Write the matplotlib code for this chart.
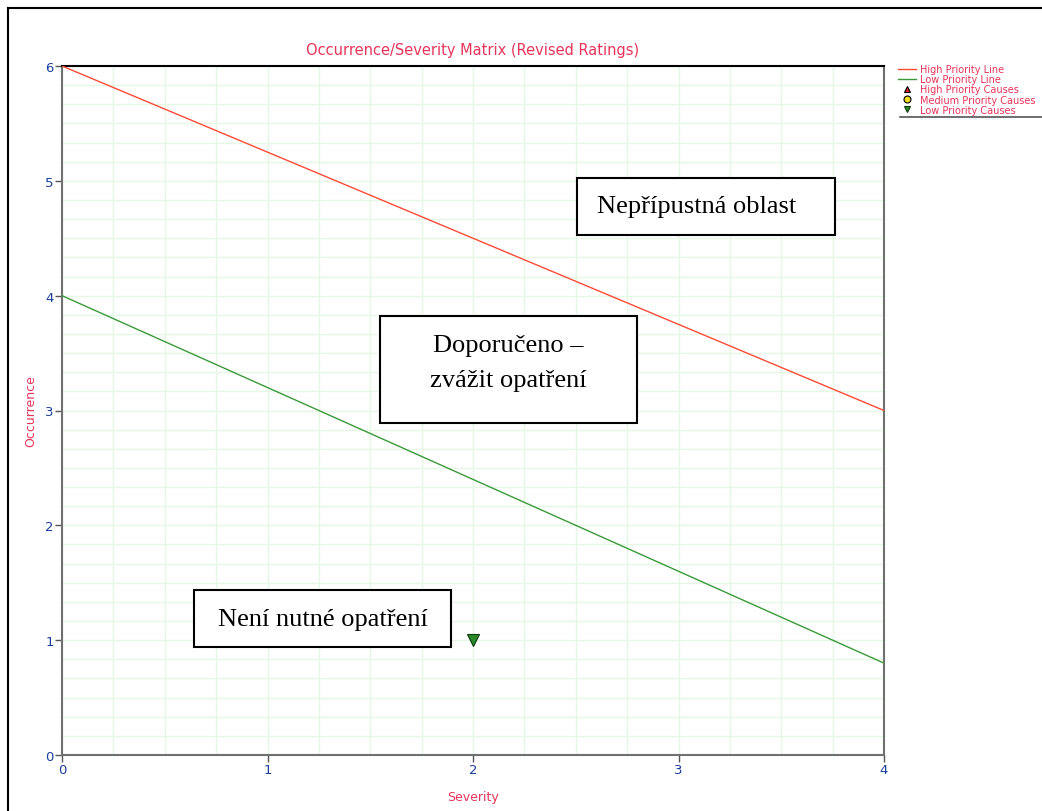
import matplotlib.pyplot as plt
from matplotlib.patches import Rectangle
from matplotlib.lines import Line2D
from matplotlib.ticker import MultipleLocator

# Priority lines (Severity -> Occurrence)
high_x = [0, 4]
high_y = [6, 3]
low_x = [0, 4]
low_y = [4, 0.8]

# Causes
high_causes_x, high_causes_y = [], []
medium_causes_x, medium_causes_y = [], []
low_causes_x = [2]
low_causes_y = [1]

region_labels = ['Nepřípustná oblast', 'Doporučeno –\nzvážit opatření', 'Není nutné opatření']

pink = '#e8345a'
blue = '#1a3d9c'
grid_green = '#e4f8e4'

fig = plt.figure(figsize=(10.42, 8.12), dpi=100)
ax = fig.add_axes([62 / 1042, 56 / 812, 822 / 1042, 689 / 812])

ax.plot(high_x, high_y, color='#ff4a35', lw=1, label='High Priority Line', zorder=3)
ax.plot(low_x, low_y, color='#3a9a3a', lw=1, label='Low Priority Line', zorder=3)
ax.plot(high_causes_x, high_causes_y, ls='none', marker='^', ms=5, mfc='#e02020',
        mec='black', mew=0.8, label='High Priority Causes')
ax.plot(medium_causes_x, medium_causes_y, ls='none', marker='o', ms=5, mfc='#f0e020',
        mec='black', mew=0.8, label='Medium Priority Causes')
ax.plot(low_causes_x, low_causes_y, ls='none', marker='v', ms=8, mfc='#2a8a2a',
        mec='#0a3a0a', mew=0.8, label='Low Priority Causes', zorder=4)

ax.set_xlim(0, 4)
ax.set_ylim(0, 6)
ax.xaxis.set_major_locator(MultipleLocator(1))
ax.yaxis.set_major_locator(MultipleLocator(1))
ax.xaxis.set_minor_locator(MultipleLocator(0.25))
ax.yaxis.set_minor_locator(MultipleLocator(1 / 6))
ax.grid(True, which='both', color=grid_green, lw=1)
ax.set_axisbelow(True)
ax.tick_params(which='minor', length=0)
ax.tick_params(which='major', length=5, width=1, color='#555555', labelcolor=blue,
               labelsize=9.5, pad=1)

for side in ['left', 'bottom', 'right']:
    ax.spines[side].set_color('#707070')
    ax.spines[side].set_linewidth(1.5)
ax.spines['top'].set_color('black')
ax.spines['top'].set_linewidth(1.5)

ax.set_title('Occurrence/Severity Matrix (Revised Ratings)', color=pink, fontsize=10.5, pad=9)
ax.set_xlabel('Severity', color=pink, fontsize=9, labelpad=10)
ax.set_ylabel('Occurrence', color=pink, fontsize=9, labelpad=6)

# region boxes (data coords) and text centre offsets
boxes = [(2.506, 4.528, 1.256, 0.497), (1.547, 2.891, 1.251, 0.932), (0.642, 0.940, 1.251, 0.497)]
text_dx = [-0.045, 0, 0]
text_dy = [0, 0.06, 0]
for (bx, by, bw, bh), label, dx, dy in zip(boxes, region_labels, text_dx, text_dy):
    ax.add_patch(Rectangle((bx, by), bw, bh, facecolor='white', edgecolor='black',
                           lw=1.5, zorder=5))
    ax.text(bx + bw / 2 + dx, by + bh / 2 + dy, label, ha='center', va='center',
            fontsize=19, family='Liberation Serif', linespacing=1.75, zorder=6)

leg = ax.legend(loc='upper left', frameon=False, fontsize=7.0,
                labelspacing=0.02, handlelength=1.8, handletextpad=0.5,
                borderpad=0, borderaxespad=0)
leg.set_bbox_to_anchor((898 / 1042, 1 - 65 / 812), transform=fig.transFigure)
for t in leg.get_texts():
    t.set_color(pink)
for h in leg.legend_handles[2:]:
    h.set_markersize(5)

fig.add_artist(Line2D([900 / 1042, 1], [1 - 118 / 812] * 2, color='#555555', lw=1.2))

# outer frame
fig.add_artist(Line2D([8 / 1042, 8 / 1042], [0, 1 - 9 / 812], color='black', lw=1.5))
fig.add_artist(Line2D([8 / 1042, 1], [1 - 9 / 812, 1 - 9 / 812], color='black', lw=1.5))

fig.savefig('out.png', dpi=100, facecolor='white')
